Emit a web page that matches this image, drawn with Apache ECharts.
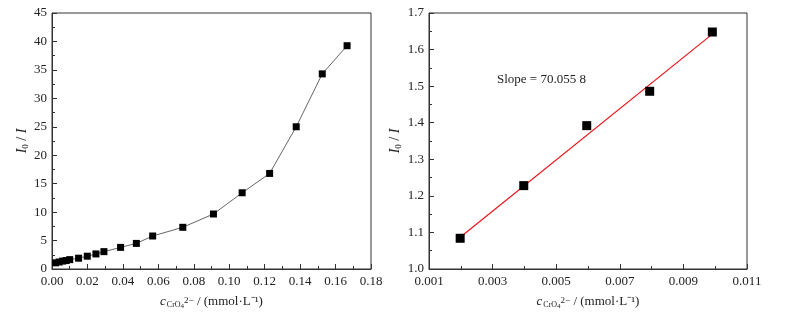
<!DOCTYPE html>
<html>
<head>
<meta charset="utf-8">
<script src="https://cdn.jsdelivr.net/npm/echarts@6/dist/echarts.min.js"></script>
<style>
  html, body { margin: 0; padding: 0; background: #fff; }
  #chart { width: 785px; height: 316px; }
</style>
</head>
<body>
<div id="chart"></div>
<script>
// 左图：全浓度范围
const conc = [0.002, 0.004, 0.006, 0.008, 0.010, 0.0150, 0.0199, 0.0248, 0.0293, 0.0387, 0.0476, 0.0568, 0.0738, 0.0911, 0.1073, 0.1228, 0.1378, 0.1525, 0.1665]
const ratio = [1.084, 1.228, 1.392, 1.486, 1.648, 1.90, 2.25, 2.65, 3.05, 3.80, 4.50, 5.80, 7.33, 9.67, 13.4, 16.8, 25.0, 34.3, 39.25]

// 右图：低浓度线性区
const lowConc = [0.00198, 0.00398, 0.00596, 0.00794, 0.00991]
const lowRatio = [1.084, 1.228, 1.392, 1.486, 1.648]
const slope = 70.0558
const intercept = 0.948
const fitX = [0.002, 0.0099]

const font = 'Liberation Serif'
const axisColor = '#333'

const xName = {
  text: '{c|c}{s|CrO}{ss|4}{sp|2−}{t| / (mmol·L⁻¹)}',
  rich: {
    c: { fontFamily: font, fontStyle: 'italic', fontSize: 13, color: '#222' },
    s: { fontFamily: font, fontSize: 8, color: '#222', padding: [6, 0, 0, 1] },
    ss: { fontFamily: font, fontSize: 7, color: '#222', padding: [9, 0, 0, 0] },
    sp: { fontFamily: font, fontSize: 9, color: '#222', padding: [0, 0, 2, 0] },
    t: { fontFamily: font, fontSize: 13, color: '#222' }
  }
}

const yName = '{i|I}{s|0}{t| / }{i|I}'
const yRich = {
  i: { fontFamily: font, fontStyle: 'italic', fontSize: 14, color: '#222' },
  s: { fontFamily: font, fontSize: 9, color: '#222', padding: [7, 0, 0, 0] },
  t: { fontFamily: font, fontSize: 14, color: '#222' }
}

function xAxis(gridIndex, min, max, interval, digits) {
  return {
    type: 'value',
    gridIndex: gridIndex,
    min: min,
    max: max,
    interval: interval,
    name: xName.text,
    nameLocation: 'middle',
    nameGap: 25,
    nameTextStyle: { rich: xName.rich },
    axisLine: { onZero: false, lineStyle: { color: axisColor, width: 1 } },
    axisTick: { inside: true, length: 5, lineStyle: { color: axisColor } },
    minorTick: { show: true, splitNumber: 2, length: 3, lineStyle: { color: axisColor } },
    splitLine: { show: false },
    axisLabel: {
      fontFamily: font, fontSize: 13, color: '#222', margin: 6,
      formatter: v => v.toFixed(digits)
    }
  }
}

function yAxis(gridIndex, min, max, interval, digits) {
  return {
    type: 'value',
    gridIndex: gridIndex,
    min: min,
    max: max,
    interval: interval,
    name: yName,
    nameLocation: 'middle',
    nameRotate: 90,
    nameGap: gridIndex === 0 ? 20 : 26,
    nameTextStyle: { rich: yRich },
    axisLine: { show: true, onZero: false, lineStyle: { color: axisColor, width: 1 } },
    axisTick: { show: true, inside: true, length: 5, lineStyle: { color: axisColor } },
    minorTick: { show: true, splitNumber: 2, length: 3, lineStyle: { color: axisColor } },
    splitLine: { show: false },
    axisLabel: {
      fontFamily: font, fontSize: 13, color: '#222', margin: 5,
      formatter: v => digits ? v.toFixed(digits) : String(Math.round(v))
    }
  }
}

const chart = echarts.init(document.getElementById('chart'))

chart.setOption({
  animation: false,
  backgroundColor: '#fff',
  grid: [
    { left: 52, right: 414, top: 13, bottom: 47, show: true, borderColor: axisColor, borderWidth: 1 },
    { left: 429, right: 38, top: 13, bottom: 47, show: true, borderColor: axisColor, borderWidth: 1 }
  ],
  xAxis: [
    xAxis(0, 0, 0.18, 0.02, 2),
    xAxis(1, 0.001, 0.011, 0.002, 3)
  ],
  yAxis: [
    yAxis(0, 0, 45, 5, 0),
    yAxis(1, 1.0, 1.7, 0.1, 1)
  ],
  graphic: [{
    type: 'text',
    left: 497,
    top: 73,
    style: { text: 'Slope = ' + '70.055 8', fontFamily: font, fontSize: 13, fill: '#222' }
  }],
  series: [
    {
      type: 'line',
      xAxisIndex: 0,
      yAxisIndex: 0,
      data: conc.map((x, i) => [x, ratio[i]]),
      symbol: 'rect',
      symbolSize: 7,
      itemStyle: { color: '#000' },
      lineStyle: { color: '#666', width: 1 }
    },
    {
      type: 'line',
      xAxisIndex: 1,
      yAxisIndex: 1,
      data: fitX.map(x => [x, intercept + slope * x]),
      symbol: 'none',
      lineStyle: { color: '#e8141b', width: 1.2 },
      z: 1
    },
    {
      type: 'scatter',
      xAxisIndex: 1,
      yAxisIndex: 1,
      data: lowConc.map((x, i) => [x, lowRatio[i]]),
      symbol: 'rect',
      symbolSize: 9,
      itemStyle: { color: '#000', opacity: 1 },
      z: 3
    }
  ]
})
</script>
</body>
</html>
